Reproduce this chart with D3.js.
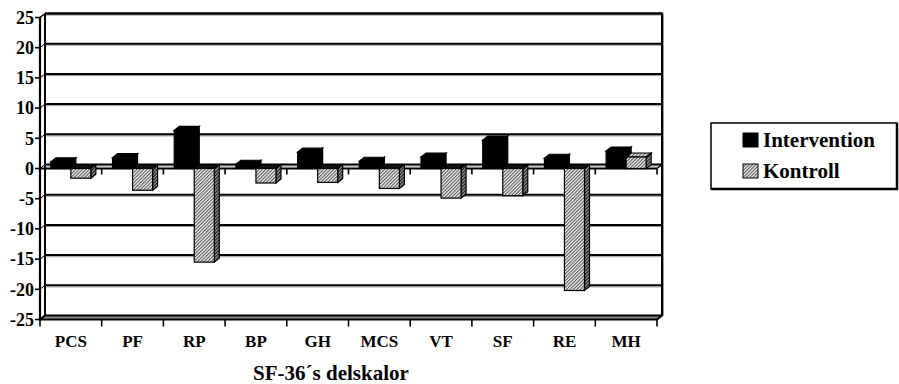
<!DOCTYPE html>
<html>
<head>
<meta charset="utf-8">
<script src="https://cdn.jsdelivr.net/npm/d3@7"></script>
<style>
  html, body { margin: 0; padding: 0; background: #fff; }
  svg { display: block; font-family: "Liberation Serif", "Times New Roman", serif; font-weight: bold; }
</style>
</head>
<body>
<svg id="chart" width="899" height="384"></svg>
<script>
// SF-36 subscale change scores per group
const categories = ["PCS", "PF", "RP", "BP", "GH", "MCS", "VT", "SF", "RE", "MH"];
const intervention = [1.1, 1.8, 6.3, 0.7, 2.7, 1.2, 1.9, 4.7, 1.7, 2.9];
const kontroll = [-1.6, -3.6, -15.5, -2.4, -2.3, -3.3, -4.9, -4.5, -20.2, 1.9];
const seriesNames = ["Intervention", "Kontroll"];
const yTicks = [25, 20, 15, 10, 5, 0, -5, -10, -15, -20, -25];
const xTitle = "SF-36´s delskalor";

const svg = d3.select("#chart");

// plot frame and 3D depth offset
const left = 40, right = 657;
const DX = 5, DY = 4;

const y = d3.scaleLinear().domain([-25, 25]).range([319.5, 17.5]);
const x = d3.scaleBand().domain(categories).range([left, right]).padding(0);
const xs = d3.scaleBand().domain(seriesNames).range([0, x.bandwidth()])
  .paddingInner(0).paddingOuter(0.54);

// hatch patterns
const defs = svg.append("defs");
function hatch(id, bg, line, sw) {
  const p = defs.append("pattern").attr("id", id)
    .attr("patternUnits", "userSpaceOnUse")
    .attr("width", 2.4).attr("height", 2.4)
    .attr("patternTransform", "rotate(45)");
  p.append("rect").attr("width", 2.4).attr("height", 2.4).attr("fill", bg);
  p.append("line").attr("x1", 0.6).attr("y1", 0).attr("x2", 0.6).attr("y2", 2.4)
    .attr("stroke", line).attr("stroke-width", sw);
}
hatch("hatchFront", "#f4f4f4", "#333", 0.9);
hatch("hatchSide", "#9a9a9a", "#111", 1.1);

const yTop = y(25), yBot = y(-25), y0 = y(0);

// back wall
svg.append("rect")
  .attr("x", left + DX).attr("y", yTop - DY)
  .attr("width", right - left).attr("height", yBot - yTop)
  .attr("fill", "#fff");

// gridlines on back wall and left side wall
const grid = svg.append("g");
yTicks.filter(t => t !== -25).forEach(t => {
  const gy = y(t) - DY;
  grid.append("line")
    .attr("x1", left + DX).attr("x2", right + DX)
    .attr("y1", gy + 1.6).attr("y2", gy + 1.6)
    .attr("stroke", "#9a9a9a").attr("stroke-width", 1);
  grid.append("line")
    .attr("x1", left + DX).attr("x2", right + DX)
    .attr("y1", gy).attr("y2", gy)
    .attr("stroke", "#000").attr("stroke-width", t === 25 ? 2.4 : 2);
  grid.append("line")
    .attr("x1", left).attr("y1", y(t))
    .attr("x2", left + DX).attr("y2", gy)
    .attr("stroke", "#000").attr("stroke-width", 1);
});

// right edge of back wall
svg.append("line")
  .attr("x1", right + DX + 1.5).attr("x2", right + DX + 1.5)
  .attr("y1", yTop - DY).attr("y2", yBot - DY)
  .attr("stroke", "#9a9a9a").attr("stroke-width", 1);
svg.append("line")
  .attr("x1", right + DX).attr("x2", right + DX)
  .attr("y1", yTop - DY - 1).attr("y2", yBot - DY)
  .attr("stroke", "#000").attr("stroke-width", 2);

// left edge of back wall
svg.append("line")
  .attr("x1", left + DX).attr("x2", left + DX)
  .attr("y1", yTop - DY).attr("y2", yBot - DY)
  .attr("stroke", "#000").attr("stroke-width", 2);

// floor
svg.append("polygon")
  .attr("points", [
    [left, yBot], [right, yBot], [right + DX, yBot - DY], [left + DX, yBot - DY]
  ].map(p => p.join(",")).join(" "))
  .attr("fill", "#8c8c8c").attr("stroke", "#000").attr("stroke-width", 2.2)
  .attr("stroke-linejoin", "round");

// zero plane front edge with category ticks
svg.append("line")
  .attr("x1", left).attr("x2", right).attr("y1", y0).attr("y2", y0)
  .attr("stroke", "#000").attr("stroke-width", 1.8);
svg.append("line")
  .attr("x1", right).attr("y1", y0).attr("x2", right + DX).attr("y2", y0 - DY)
  .attr("stroke", "#000").attr("stroke-width", 1.4);
categories.forEach((c, i) => {
  const bx = x(c) + x.bandwidth();
  svg.append("line")
    .attr("x1", bx).attr("x2", bx).attr("y1", y0).attr("y2", y0 + 6)
    .attr("stroke", "#000").attr("stroke-width", 1.6);
});

// 3D columns
const bars = svg.append("g");
function poly(pts) { return pts.map(p => p.join(",")).join(" "); }
function column(x0, w, v, style) {
  const yv = y(v), x1 = x0 + w;
  const g = bars.append("g");
  if (v >= 0) {
    g.append("polygon").attr("points", poly([[x1, yv], [x1 + DX, yv - DY], [x1 + DX, y0 - DY], [x1, y0]]))
      .attr("fill", style.side).attr("stroke", "#000").attr("stroke-width", style.sw);
    g.append("polygon").attr("points", poly([[x0, yv], [x0 + DX, yv - DY], [x1 + DX, yv - DY], [x1, yv]]))
      .attr("fill", style.top).attr("stroke", "#000").attr("stroke-width", style.sw);
    g.append("rect").attr("x", x0).attr("y", yv).attr("width", w).attr("height", y0 - yv)
      .attr("fill", style.front).attr("stroke", "#000").attr("stroke-width", style.sw);
  } else {
    g.append("polygon").attr("points", poly([[x0, y0], [x0 + DX, y0 - DY], [x1 + DX, y0 - DY], [x1, y0]]))
      .attr("fill", style.cap).attr("stroke", "#000").attr("stroke-width", style.sw);
    g.append("polygon").attr("points", poly([[x1, y0], [x1 + DX, y0 - DY], [x1 + DX, yv - DY], [x1, yv]]))
      .attr("fill", style.side).attr("stroke", "#000").attr("stroke-width", style.sw);
    g.append("rect").attr("x", x0).attr("y", y0).attr("width", w).attr("height", yv - y0)
      .attr("fill", style.front).attr("stroke", "#000").attr("stroke-width", style.sw);
  }
}
const styles = {
  Intervention: { front: "#000", side: "#000", top: "#000", cap: "#000", sw: 1.2 },
  Kontroll: { front: "url(#hatchFront)", side: "url(#hatchSide)", top: "url(#hatchFront)", cap: "#111", sw: 1.2 }
};
const seriesValues = { Intervention: intervention, Kontroll: kontroll };
categories.forEach((c, i) => {
  seriesNames.forEach(s => {
    column(x(c) + xs(s), xs.bandwidth(), seriesValues[s][i], styles[s]);
  });
});

// value axis
svg.append("line")
  .attr("x1", left).attr("x2", left).attr("y1", yTop - 0.5).attr("y2", yBot + 1)
  .attr("stroke", "#000").attr("stroke-width", 2.2);
svg.append("line")
  .attr("x1", left).attr("y1", yTop).attr("x2", left + DX).attr("y2", yTop - DY)
  .attr("stroke", "#000").attr("stroke-width", 1.5);
const yAxis = svg.append("g");
yTicks.forEach(t => {
  yAxis.append("line")
    .attr("x1", left - 5).attr("x2", left).attr("y1", y(t)).attr("y2", y(t))
    .attr("stroke", "#000").attr("stroke-width", 1.6);
  yAxis.append("text")
    .attr("x", left - 6).attr("y", y(t)).attr("dy", "0.35em")
    .attr("text-anchor", "end").attr("font-size", 18)
    .text(t);
});

// category axis under the floor
const xAxis = svg.append("g");
[left].concat(categories.map(c => x(c) + x.bandwidth())).forEach(bx => {
  xAxis.append("line")
    .attr("x1", bx).attr("x2", bx).attr("y1", yBot).attr("y2", yBot + 7)
    .attr("stroke", "#000").attr("stroke-width", 1.6);
});
categories.forEach(c => {
  xAxis.append("text")
    .attr("x", x(c) + x.bandwidth() / 2).attr("y", 346.5)
    .attr("text-anchor", "middle").attr("font-size", 17)
    .text(c);
});

svg.append("text")
  .attr("x", 331).attr("y", 380)
  .attr("text-anchor", "middle").attr("font-size", 21)
  .text(xTitle);

// legend
const lg = svg.append("g");
lg.append("rect").attr("x", 711).attr("y", 123).attr("width", 186).attr("height", 66)
  .attr("fill", "#fff").attr("stroke", "#000").attr("stroke-width", 1.5);
lg.append("polyline").attr("points", "897,123.5 897,189 711.5,189")
  .attr("fill", "none").attr("stroke", "#000").attr("stroke-width", 2.5);
seriesNames.forEach((s, i) => {
  const ly = 133 + i * 31;
  lg.append("rect").attr("x", 743).attr("y", ly).attr("width", 15).attr("height", 14)
    .attr("fill", styles[s].front).attr("stroke", "#000").attr("stroke-width", 1);
  lg.append("text").attr("x", 763).attr("y", ly + 14)
    .attr("font-size", 21).text(s);
});
</script>
</body>
</html>
